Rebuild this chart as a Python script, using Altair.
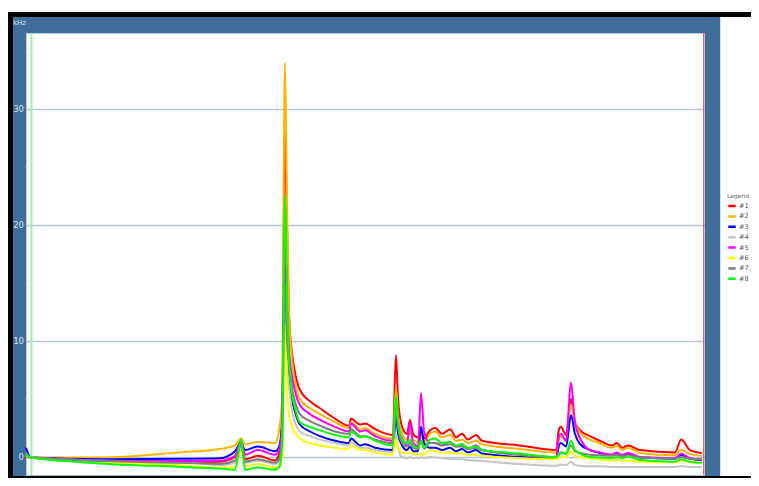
import altair as alt
import pandas as pd

# ---------------- data ----------------
time_s = [-3.6, -2.0, 20.6, 46.7, 59.8, 64.7, 66.7, 68.0, 72.2, 77.8,
          79.1, 80.1, 81.0, 81.7, 82.4, 83.3, 84.3, 85.9, 89.2, 92.5,
          97.4, 102.0, 102.6, 105.6, 107.2, 110.5, 116.3, 117.3, 118.0, 119.3,
          120.9, 121.9, 122.9, 124.5, 125.5, 126.5, 128.4, 130.1, 132.4, 135.0,
          136.9, 138.9, 140.8, 143.5, 145.4, 157.8, 169.6, 170.6, 171.2, 172.9,
          174.5, 175.8, 177.5, 180.7, 183.9, 187.9, 189.5, 191.2, 193.1, 197.1,
          208.5, 210.5, 213.4, 217.3]

s1 = [0.0, -0.05, -0.35, -0.45, -0.4, 0.0, 1.6, -0.2, 0.1, -0.3,
      0.2, 3.0, 28, 20, 12, 9, 7.3, 5.8, 4.8, 4.2,
      3.3, 2.7, 3.3, 2.8, 2.9, 2.4, 1.9, 8.8, 5.0, 2.6,
      2.0, 3.2, 2.0, 1.7, 2.2, 1.6, 2.3, 2.5, 2.0, 2.4,
      1.7, 2.0, 1.5, 1.9, 1.4, 1.0, 0.6, 2.4, 2.6, 1.9,
      5.0, 3.0, 2.3, 1.8, 1.4, 1.0, 1.2, 0.8, 1.0, 0.6,
      0.4, 1.5, 0.6, 0.35]
s2 = [0.3, -0.05, -0.05, 0.4, 0.7, 1.0, 1.6, 1.1, 1.3, 1.2,
      2.3, 5.0, 34, 22, 12, 8.5, 6.5, 5.0, 4.2, 3.7,
      3.0, 2.5, 3.0, 2.4, 2.5, 2.0, 1.6, 6.0, 3.5, 2.0,
      1.5, 2.2, 1.5, 1.3, 1.8, 1.3, 2.0, 2.2, 1.7, 1.9,
      1.4, 1.5, 1.2, 1.4, 1.1, 0.7, 0.4, 1.6, 1.8, 1.4,
      4.5, 3.0, 2.1, 1.5, 1.2, 0.8, 1.0, 0.6, 0.8, 0.35,
      0.15, 0.6, 0.25, 0.1]
s3 = [0.8, -0.05, -0.2, -0.15, -0.1, 0.5, 1.2, 0.6, 0.9, 0.5,
      0.9, 3.0, 18, 11, 7, 5, 3.9, 2.8, 2.2, 1.8,
      1.4, 1.2, 1.6, 1.0, 1.1, 0.8, 0.6, 3.5, 2.0, 1.0,
      0.6, 0.9, 0.5, 0.5, 2.6, 1.2, 0.8, 0.8, 0.6, 0.8,
      0.5, 0.7, 0.4, 0.6, 0.3, 0.0, -0.1, 1.0, 1.2, 0.9,
      3.6, 2.0, 1.1, 0.6, 0.35, 0.15, 0.3, 0.1, 0.3, -0.05,
      -0.15, 0.2, -0.15, -0.25]
s4 = [0.3, -0.05, -0.3, -0.4, -0.7, -0.5, 0.8, -0.5, -0.3, -0.6,
      -0.4, 1.0, 13, 8, 6, 4, 3.0, 2.2, 1.8, 1.5,
      1.2, 1.0, 1.3, 0.8, 0.8, 0.6, 0.4, 2.0, 0.8, 0.0,
      -0.1, 0.0, -0.1, -0.1, 0.0, -0.1, 0.0, -0.05, -0.1, -0.15,
      -0.2, -0.2, -0.25, -0.3, -0.35, -0.6, -0.75, -0.7, -0.65, -0.7,
      -0.4, -0.7, -0.75, -0.8, -0.8, -0.85, -0.85, -0.85, -0.85, -0.85,
      -0.85, -0.8, -0.85, -0.85]
s5 = [0.2, -0.05, -0.35, -0.35, -0.3, 0.1, 1.3, 0.2, 0.6, 0.2,
      0.6, 2.5, 20, 13, 9, 7, 5.7, 4.5, 3.7, 3.2,
      2.6, 2.2, 2.9, 2.2, 2.3, 1.8, 1.4, 4.5, 2.6, 1.6,
      1.1, 3.0, 1.2, 0.9, 5.5, 2.2, 1.2, 1.2, 1.0, 1.3,
      0.9, 1.1, 0.7, 1.0, 0.6, 0.2, -0.05, 1.8, 2.0, 1.4,
      6.4, 3.0, 1.6, 0.6, 0.4, 0.2, 0.4, 0.15, 0.35, 0.0,
      -0.1, 0.3, -0.1, -0.2]
s6 = [0.1, -0.05, -0.45, -0.7, -0.9, -0.9, 0.6, -0.8, -0.6, -0.9,
      -0.9, 0.0, 11.5, 6, 3.5, 2.7, 2.1, 1.6, 1.2, 1.0,
      0.8, 0.7, 1.0, 0.6, 0.6, 0.4, 0.2, 1.5, 0.8, 0.4,
      0.3, 0.4, 0.3, 0.2, 0.3, 0.2, 0.6, 0.5, 0.4, 0.4,
      0.3, 0.3, 0.2, 0.2, 0.1, -0.1, -0.2, 0.0, 0.05, 0.0,
      0.5, 0.1, 0.0, -0.1, -0.2, -0.3, -0.25, -0.3, -0.3, -0.4,
      -0.45, -0.3, -0.45, -0.5]
s7 = [0.3, -0.05, -0.35, -0.5, -0.6, -0.3, 1.0, -0.4, -0.2, -0.5,
      -0.2, 1.5, 15, 10, 8, 6, 4.8, 3.7, 3.1, 2.7,
      2.2, 2.0, 2.4, 1.8, 1.8, 1.5, 1.2, 4.5, 2.6, 1.2,
      0.9, 1.2, 0.8, 0.7, 1.4, 0.7, 1.2, 1.2, 1.0, 1.1,
      0.9, 0.9, 0.7, 0.8, 0.6, 0.2, 0.0, 0.3, 0.4, 0.3,
      1.0, 0.5, 0.35, 0.2, 0.15, 0.1, 0.2, 0.05, 0.1, -0.05,
      -0.15, 0.0, -0.15, -0.2]
s8 = [0.25, -0.05, -0.55, -0.85, -1.0, -1.1, 1.5, -1.1, -0.9, -1.1,
      -0.9, 1.0, 22.5, 14, 8, 5.5, 4.2, 3.0, 2.6, 2.3,
      1.9, 1.7, 2.2, 1.7, 1.8, 1.4, 1.0, 5.3, 3.0, 1.5,
      1.2, 1.5, 1.0, 0.8, 1.4, 0.8, 1.5, 1.6, 1.2, 1.3,
      1.0, 1.1, 0.8, 0.9, 0.6, 0.3, 0.0, 0.2, 0.4, 0.3,
      1.4, 0.6, 0.3, 0.0, -0.05, -0.1, 0.0, -0.1, 0.05, -0.25,
      -0.4, -0.2, -0.4, -0.5]

series_names = ["#1", "#2", "#3", "#4", "#5", "#6", "#7", "#8"]
series_colors = ["#ff0000", "#ffb400", "#0000ff", "#c4c4c4",
                 "#ff00ff", "#ffff00", "#808080", "#00ff00"]
y_tick_values = [0, 10, 20, 30]
y_minor_ticks = [5, 15, 25, 35]
x_tick_values = [0, 10, 20, 30, 40, 50, 60, 70, 80, 90, 100, 110,
                 120, 130, 140, 150, 160, 170, 180, 190, 200, 210]
cursor_green = [-1.8]
cursor_red = [217.9]

X_DOMAIN = [-3.6, 218.3]
Y_DOMAIN = [-1.55, 36.55]

rows = []
for name, vals in zip(series_names, [s1, s2, s3, s4, s5, s6, s7, s8]):
    for t, v in zip(time_s, vals):
        rows.append({"t": t, "kHz": v, "series": name})
df = pd.DataFrame(rows)

xs = alt.Scale(domain=X_DOMAIN, nice=False, zero=False)
ys = alt.Scale(domain=Y_DOMAIN, nice=False, zero=False)

FRAME_BLUE = "#3f6e9b"
BLACK = "#000000"
LABEL_COL = "#d4e0ee"

one = alt.InlineData(values=[{"k": 0}])


def rect(x1, x2, y1, y2, color):
    return alt.Chart(one).mark_rect(color=color, opacity=1).encode(
        x=alt.value(x1), x2=alt.value(x2), y=alt.value(y1), y2=alt.value(y2))


frame = [
    rect(-19, 730, -21, -16, BLACK),      # black top bar
    rect(-19, -13, -21, 450, BLACK),      # black left bar
    rect(-13, 730, 443, 450, BLACK),      # black bottom bar
    rect(-13, 694, -16, 0, FRAME_BLUE),   # blue top
    rect(-13, 0, -16, 443, FRAME_BLUE),   # blue left
    rect(679, 694, -16, 443, FRAME_BLUE),  # blue right
    rect(694, 695, -16, 443, "#d8dee6"),
]

lines = alt.Chart(df).mark_line(strokeWidth=2, interpolate="monotone").encode(
    x=alt.X("t:Q", scale=xs, title=None,
            axis=alt.Axis(values=x_tick_values, labels=False, grid=False,
                          ticks=True, tickSize=2, tickColor="#a9bfd6",
                          domain=True, domainColor="#a9bfd6", title=None)),
    y=alt.Y("kHz:Q", scale=ys, title=None,
            axis=alt.Axis(values=y_tick_values, labels=False, ticks=False,
                          domain=False, grid=True, gridColor="#b3c5d8",
                          gridWidth=1.5, title=None)),
    color=alt.Color("series:N", scale=alt.Scale(domain=series_names, range=series_colors),
                    legend=alt.Legend(orient="none", legendX=701, legendY=160,
                                      title="Legend", titleFontSize=6,
                                      titleFont="DejaVu Sans", titleFontWeight="normal",
                                      titleColor="#6a6a6a", titlePadding=3,
                                      labelFontSize=6.5, labelFont="DejaVu Sans",
                                      labelColor="#555555", labelOffset=2,
                                      symbolType="stroke", symbolSize=56,
                                      symbolStrokeWidth=2.5, rowPadding=2.4,
                                      clipHeight=8, padding=0)),
    order=alt.Order("t:Q"),
)

green_cursor = alt.Chart(pd.DataFrame({"t": cursor_green})).mark_rule(
    color="#9ff09f", strokeWidth=2).encode(x=alt.X("t:Q", scale=xs))
red_cursor = alt.Chart(pd.DataFrame({"t": cursor_red})).mark_rule(
    color="#d46a6a", strokeWidth=1.5).encode(x=alt.X("t:Q", scale=xs))

ylab = alt.Chart(pd.DataFrame({"kHz": y_tick_values,
                               "lab": [str(v) for v in y_tick_values]})).mark_text(
    align="right", baseline="middle", fontSize=8.5, font="DejaVu Sans",
    color=LABEL_COL).encode(
    y=alt.Y("kHz:Q", scale=ys), x=alt.value(-2), text="lab:N")

minor = alt.Chart(pd.DataFrame({"kHz": y_minor_ticks})).mark_tick(
    color="#c8d4e2", thickness=1, size=3, orient="horizontal").encode(
    y=alt.Y("kHz:Q", scale=ys), x=alt.value(1))

unit = alt.Chart(one).mark_text(align="left", baseline="middle", fontSize=7,
                                font="DejaVu Sans", color=LABEL_COL).encode(
    x=alt.value(-13), y=alt.value(-10), text=alt.value("kHz"))

chart = alt.layer(*frame, green_cursor, red_cursor, lines, ylab, minor, unit).properties(
    width=679, height=442,
    autosize=alt.AutoSizeParams(type="none"),
    padding={"left": 18, "top": 25, "right": 46, "bottom": 3},
    background="white",
).configure_view(stroke="#b9c9da", strokeWidth=1)

chart.save("out.html", embed_options={"renderer": "svg", "actions": False})
